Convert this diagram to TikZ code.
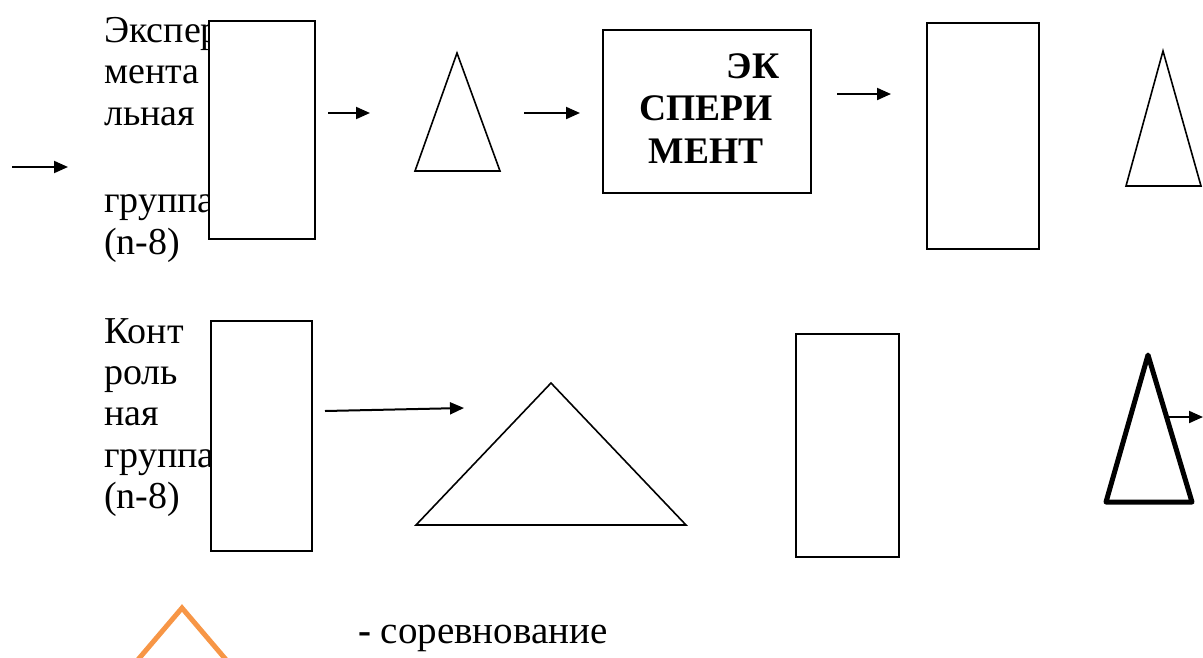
\documentclass[tikz,border=0pt]{standalone}
\usepackage{fontspec}
\setmainfont{Liberation Serif}
\usetikzlibrary{arrows.meta}
\definecolor{legendorange}{HTML}{F79646}
\tikzset{
  frame/.style={draw, line width=1.5pt, fill=white, inner sep=0pt},
  flow/.style={line width=2pt, -{Triangle[length=14pt,width=12pt]}},
  cone/.style={line width=1.6pt},
  grouptext/.style={anchor=north west, align=left, inner sep=0pt,
    font=\fontsize{38}{41.4}\selectfont},
}
\begin{document}
\begin{tikzpicture}[x=1pt,y=-1pt]
   \useasboundingbox (0,0) rectangle (1203,657);

   % group labels (under the frames)
   \node[grouptext] (expgroup) at (104,17) {Экспер\\мента\\льная\\ \\[5pt]группа\\(n-8)};
   \node[grouptext] (ctrlgroup) at (104,318) {Конт\\роль\\ная\\группа\\(n-8)};

   % upper row
   \node[frame, minimum width=106pt, minimum height=218pt] (exppre) at (262,130) {};
   \node[frame, minimum width=208pt, minimum height=163pt] (expbox) at (707,111.5) {};
   \node[anchor=north, align=center, inner sep=0pt,
     font=\bfseries\fontsize{37.5}{42.5}\selectfont] (exptext) at (706,53)
     {\hspace*{94pt}ЭК\\СПЕРИ\\МЕНТ};
   \node[frame, minimum width=112pt, minimum height=226pt] (exppost) at (983,136) {};
   \draw[cone] (457,53) -- (415,171) -- (500,171) -- cycle;
   \draw[cone] (1163,51) -- (1126,186) -- (1201,186) -- cycle;

   \coordinate (e0a) at (12,167);   \coordinate (e0b) at (68,167);
   \coordinate (e1a) at (328,113);  \coordinate (e1b) at (370,113);
   \coordinate (e2a) at (524,113);  \coordinate (e2b) at (580,113);
   \coordinate (e3a) at (837,94);   \coordinate (e3b) at (891,94);
   \draw[flow] (e0a) -- (e0b);
   \draw[flow] (e1a) -- (e1b);
   \draw[flow] (e2a) -- (e2b);
   \draw[flow] (e3a) -- (e3b);
   %%%%%%%%%%
   % lower row
   \node[frame, minimum width=101pt, minimum height=230pt] (ctrlpre) at (261.5,436) {};
   \node[frame, minimum width=103pt, minimum height=223pt] (ctrlpost) at (847.5,445.5) {};
   \draw[cone] (551,383) -- (416,525) -- (686,525) -- cycle;
   \draw[line width=5pt, line join=round] (1148,355) -- (1106,502) -- (1192,502) -- cycle;

   \coordinate (c1a) at (325,411);  \coordinate (c1b) at (464,408);
   \coordinate (c2a) at (1169,417); \coordinate (c2b) at (1203,417);
   \draw[flow] (c1a) -- (c1b);
   \draw[flow] (c2a) -- (c2b);
   %%%%%%%%%%
   % legend
   \draw[legendorange, line width=5pt] (182,608) -- (136,662) -- (228,662) -- cycle;
   \node[anchor=base west, inner sep=0pt, font=\fontsize{39}{45}\selectfont]
     (legendtext) at (358,643) {\textbf{-} соревнование};
\end{tikzpicture}
\end{document}
